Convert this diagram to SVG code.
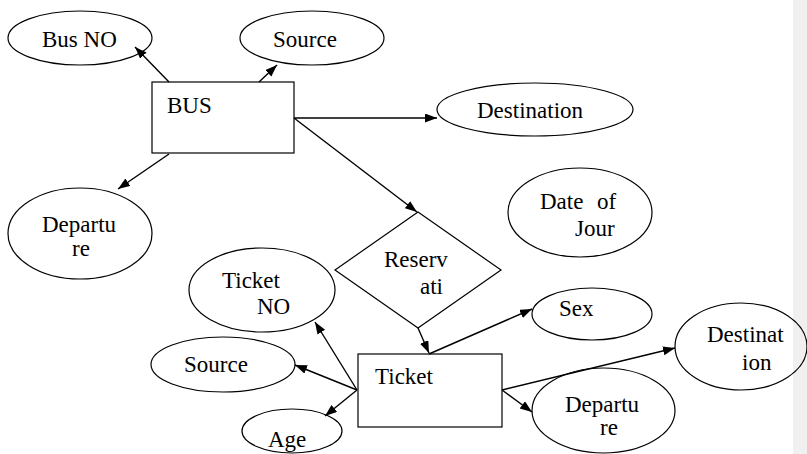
<svg xmlns="http://www.w3.org/2000/svg" width="807" height="454" viewBox="0 0 807 454">
<defs>
<marker id="arr" markerUnits="userSpaceOnUse" markerWidth="13" markerHeight="10" refX="12" refY="4.5" orient="auto">
<path d="M0,0 L12,4.5 L0,9 z" fill="#000"/>
</marker>
<style>
.n{fill:#fff;stroke:#000;stroke-width:1.2}
text{font-family:Liberation Serif, Times New Roman, serif;font-size:23px;fill:#000}
.c line{stroke:#000;stroke-width:1.4;marker-end:url(#arr)}
</style>
</defs>
<rect x="0" y="0" width="807" height="454" fill="#fff"/>
<rect x="793" y="0" width="14" height="454" fill="#f0f0f0"/>
<g id="bus_no"><ellipse class="n" cx="80" cy="38" rx="72" ry="27"/><text x="42" y="47" font-family="Liberation Serif, serif">Bus NO</text></g>
<g id="source_top"><ellipse class="n" cx="312" cy="38" rx="72" ry="27"/><text x="273" y="47" font-family="Liberation Serif, serif">Source</text></g>
<g id="bus"><rect class="n" x="152" y="82" width="142" height="71"/><text x="167" y="113" font-family="Liberation Serif, serif">BUS</text></g>
<g id="destination_top"><ellipse class="n" cx="535" cy="109.5" rx="98" ry="26.5"/><text x="477" y="118" font-family="Liberation Serif, serif">Destination</text></g>
<g id="date_of_jour"><ellipse class="n" cx="580" cy="212.5" rx="72" ry="44.5"/><text font-family="Liberation Serif, serif"><tspan x="540" y="209">Date</tspan><tspan x="597" y="209">of</tspan><tspan x="575" y="236">Jour</tspan></text></g>
<g id="departure_bus"><ellipse class="n" cx="80" cy="233.5" rx="72" ry="45.5"/><text font-family="Liberation Serif, serif"><tspan x="42" y="232">Departu</tspan><tspan x="72" y="256">re</tspan></text></g>
<g id="reservation"><polygon class="n" points="418,212 501,270 418,328 335,270"/><text font-family="Liberation Serif, serif"><tspan x="384" y="267">Reserv</tspan><tspan x="420" y="294">ati</tspan></text></g>
<g id="ticket_no"><ellipse class="n" cx="262" cy="290" rx="73" ry="42"/><text font-family="Liberation Serif, serif"><tspan x="222" y="288">Ticket</tspan><tspan x="257" y="314">NO</tspan></text></g>
<g id="sex"><ellipse class="n" cx="592" cy="314" rx="60" ry="26"/><text x="559" y="316" font-family="Liberation Serif, serif">Sex</text></g>
<g id="source_bottom"><ellipse class="n" cx="223" cy="364.5" rx="72" ry="27.5"/><text x="184" y="372" font-family="Liberation Serif, serif">Source</text></g>
<g id="ticket"><rect class="n" x="358" y="354" width="144" height="73"/><text x="375" y="384" font-family="Liberation Serif, serif">Ticket</text></g>
<g id="destination_bottom"><ellipse cx="741" cy="346.5" rx="66" ry="43.5" fill="none" stroke="#000" stroke-width="1.2"/><text font-family="Liberation Serif, serif"><tspan x="707" y="342">Destinat</tspan><tspan x="742" y="370">ion</tspan></text></g>
<g id="departure_bottom"><ellipse class="n" cx="603.5" cy="410.5" rx="71.5" ry="42.5"/><text font-family="Liberation Serif, serif"><tspan x="565" y="412">Departu</tspan><tspan x="600" y="435">re</tspan></text></g>
<g id="age"><ellipse class="n" cx="292" cy="431" rx="50" ry="22"/><text x="268" y="447" font-family="Liberation Serif, serif">Age</text></g>
<g class="c" id="connectors">
<line x1="169" y1="82" x2="135" y2="47"/>
<line x1="259" y1="82" x2="277" y2="65"/>
<line x1="169" y1="154" x2="118" y2="189"/>
<line x1="294" y1="118" x2="437" y2="118"/>
<line x1="294" y1="118" x2="417" y2="212"/>
<line x1="418" y1="328" x2="429" y2="353"/>
<line x1="429" y1="354" x2="532" y2="309"/>
<line x1="357" y1="390" x2="315" y2="322"/>
<line x1="357" y1="390" x2="295" y2="365"/>
<line x1="357" y1="390" x2="325" y2="416"/>
<line x1="502" y1="390" x2="675" y2="348"/>
<line x1="502" y1="390" x2="532" y2="412"/>
</g>
</svg>
